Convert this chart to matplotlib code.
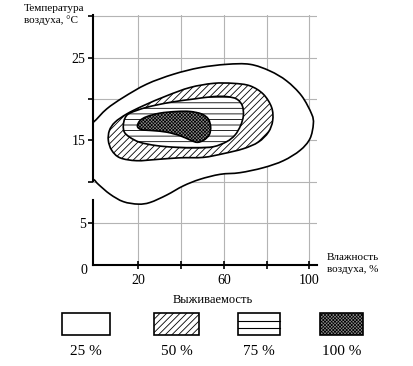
import numpy as np
import matplotlib
matplotlib.use('Agg')
import matplotlib.pyplot as plt
from matplotlib.path import Path
from matplotlib.patches import PathPatch, Rectangle

# ---------------- data ----------------
# survival zones: outlines in (humidity %, temperature °C)
zone_25 = [(-6.0, 10.9), (-1.0, 10.3), (1.3, 9.7), (6.8, 8.5), (13.0, 7.6), (20.0, 7.3),
           (25.5, 7.5), (33.3, 8.4), (41.0, 9.5), (48.8, 10.3), (58.2, 10.9), (67.5, 11.1),
           (78.4, 11.7), (87.8, 12.55), (95.6, 13.8), (100.2, 15.2), (101.8, 17.0),
           (101.0, 18.2), (96.3, 20.4), (89.3, 22.2), (81.5, 23.4), (72.2, 24.2),
           (61.3, 24.2), (48.8, 23.8), (36.4, 23.0), (23.9, 21.8), (13.0, 20.2),
           (5.2, 18.8), (-1.0, 17.2), (-6.0, 16.4)]
zone_50 = [(6.0, 15.0), (6.5, 16.2), (9.1, 17.2), (14.6, 18.2), (22.35, 19.2), (33.3, 20.4),
           (44.2, 21.4), (55.1, 21.9), (64.4, 21.9), (72.2, 21.6), (78.4, 20.6), (82.3, 19.0),
           (82.8, 17.4), (80.8, 16.0), (76.1, 14.8), (69.1, 14.0), (59.7, 13.4), (50.4, 12.95),
           (39.5, 12.9), (28.6, 12.7), (19.2, 12.55), (11.45, 12.9), (7.6, 13.8)]
zone_75 = [(13.0, 16.8), (13.8, 17.7), (16.1, 18.3), (23.9, 19.0), (34.8, 19.6), (45.7, 20.0),
           (55.1, 20.3), (61.3, 20.3), (66.0, 20.0), (68.6, 19.2), (69.1, 18.0), (67.8, 16.8),
           (65.2, 15.65), (61.3, 14.85), (55.1, 14.24), (47.3, 14.1), (37.9, 14.16),
           (28.6, 14.37), (20.8, 14.77), (16.1, 15.37), (13.5, 16.0)]
zone_100 = [(19.6, 16.7), (20.8, 17.4), (23.9, 17.87), (30.1, 18.3), (37.9, 18.5), (44.2, 18.5),
            (49.6, 18.2), (52.7, 17.6), (53.8, 16.66), (53.2, 15.7), (50.7, 15.05),
            (47.6, 14.77), (44.2, 15.05), (39.5, 15.57), (33.3, 16.0), (27.0, 16.18),
            (21.6, 16.3)]

x_ticks = [20, 40, 60, 80, 100]
x_tick_labels = ['20', '', '60', '', '100']
y_ticks = [5, 10, 15, 20, 25, 30]
y_tick_labels = ['5', '', '15', '', '25', '']
y_label = 'Температура\nвоздуха, °С'
x_label = 'Влажность\nвоздуха, %'
legend_title = 'Выживаемость'
legend_labels = ['25 %', '50 %', '75 %', '100 %']

# ---------------- style ----------------
plt.rcParams['font.family'] = ['Liberation Serif', 'DejaVu Serif']
plt.rcParams['hatch.linewidth'] = 0.6

# per-zone fill style: (face colour, hatch)
zone_styles = [('white', ''), ('white', '/////'), ('white', '---'), ('#8c8c8c', 'x' * 10)]

W, H = 413, 366
fig = plt.figure(figsize=(W / 100, H / 100), dpi=100)
fig.patch.set_facecolor('white')


def smooth_closed_path(pts):
    P = np.asarray(pts, float)
    n = len(P)
    verts = [P[0]]
    codes = [Path.MOVETO]
    for i in range(n):
        p0, p1, p2, p3 = P[i - 1], P[i], P[(i + 1) % n], P[(i + 2) % n]
        verts += [p1 + (p2 - p0) / 6.0, p2 - (p3 - p1) / 6.0, p2]
        codes += [Path.CURVE4] * 3
    verts.append(P[0])
    codes.append(Path.CLOSEPOLY)
    return Path(verts, codes)


ax = fig.add_axes([92.5 / W, 101.5 / H, 224.9 / W, 249.8 / H])
ax.set_xlim(-1.4, 103.7)
ax.set_ylim(0, 30.2)
ax.set_axisbelow(True)
ax.grid(True, color='#b4b4b4', lw=0.8)

for i, pts in enumerate([zone_25, zone_50, zone_75, zone_100]):
    fc, hatch = zone_styles[i]
    patch = PathPatch(smooth_closed_path(pts), facecolor=fc, edgecolor='black',
                      lw=1.2, hatch=hatch, zorder=3 + i)
    if i == 3 and hasattr(patch, 'set_hatch_linewidth'):
        patch.set_hatch_linewidth(0.5)
    ax.add_patch(patch)

ax.set_xticks(x_ticks)
ax.set_xticklabels(x_tick_labels)
ax.set_yticks(y_ticks)
ax.set_yticklabels(y_tick_labels)
ax.tick_params(axis='x', direction='inout', length=5.5, width=1.2, labelsize=10, pad=4)
ax.tick_params(axis='y', direction='out', length=3.5, width=1.2, labelsize=10, pad=1.5)
for s in ['top', 'right', 'left']:
    ax.spines[s].set_visible(False)
ax.spines['bottom'].set_linewidth(1.5)
ax.spines['bottom'].set_zorder(10)
# left axis line (with the small gap seen in the original)
yt = ax.get_yaxis_transform()
ax.plot([0, 0], [0, 7.8], color='black', lw=1.5, transform=yt, clip_on=False, zorder=10)
ax.plot([0, 0], [10.1, 30.2], color='black', lw=1.5, transform=yt, clip_on=False, zorder=10)

# overlay in pixel coordinates for labels and legend
lax = fig.add_axes([0, 0, 1, 1])
lax.set_xlim(0, W)
lax.set_ylim(H, 0)
lax.axis('off')
lax.patch.set_alpha(0)

lax.text(24, 4, y_label, ha='left', va='top', fontsize=8, linespacing=1.25)
lax.text(327, 263.5, x_label, ha='left', va='center', fontsize=8, linespacing=1.3)
lax.text(84, 270, '0', ha='center', va='center', fontsize=10)
lax.text(213, 303, legend_title, ha='center', va='baseline', fontsize=9)

box_left = [62, 154, 238, 320]
box_w = [48, 45, 42, 43]
box_top, box_h = 313.3, 21.7
for i, lab in enumerate(legend_labels):
    fc, hatch = zone_styles[i]
    if i == 2:
        hatch = ''
    r = Rectangle((box_left[i], box_top), box_w[i], box_h, facecolor=fc,
                  edgecolor='black', lw=1.2, hatch=hatch)
    if i == 3 and hasattr(r, 'set_hatch_linewidth'):
        r.set_hatch_linewidth(0.5)
    lax.add_patch(r)
    if i == 2:
        for yy in (box_top + 7.2, box_top + 14.8):
            lax.plot([box_left[i], box_left[i] + box_w[i]], [yy, yy], color='black', lw=0.8)
    lax.text(box_left[i] + box_w[i] / 2, 355, lab, ha='center', va='baseline', fontsize=11)

fig.savefig('out.png', dpi=100)
